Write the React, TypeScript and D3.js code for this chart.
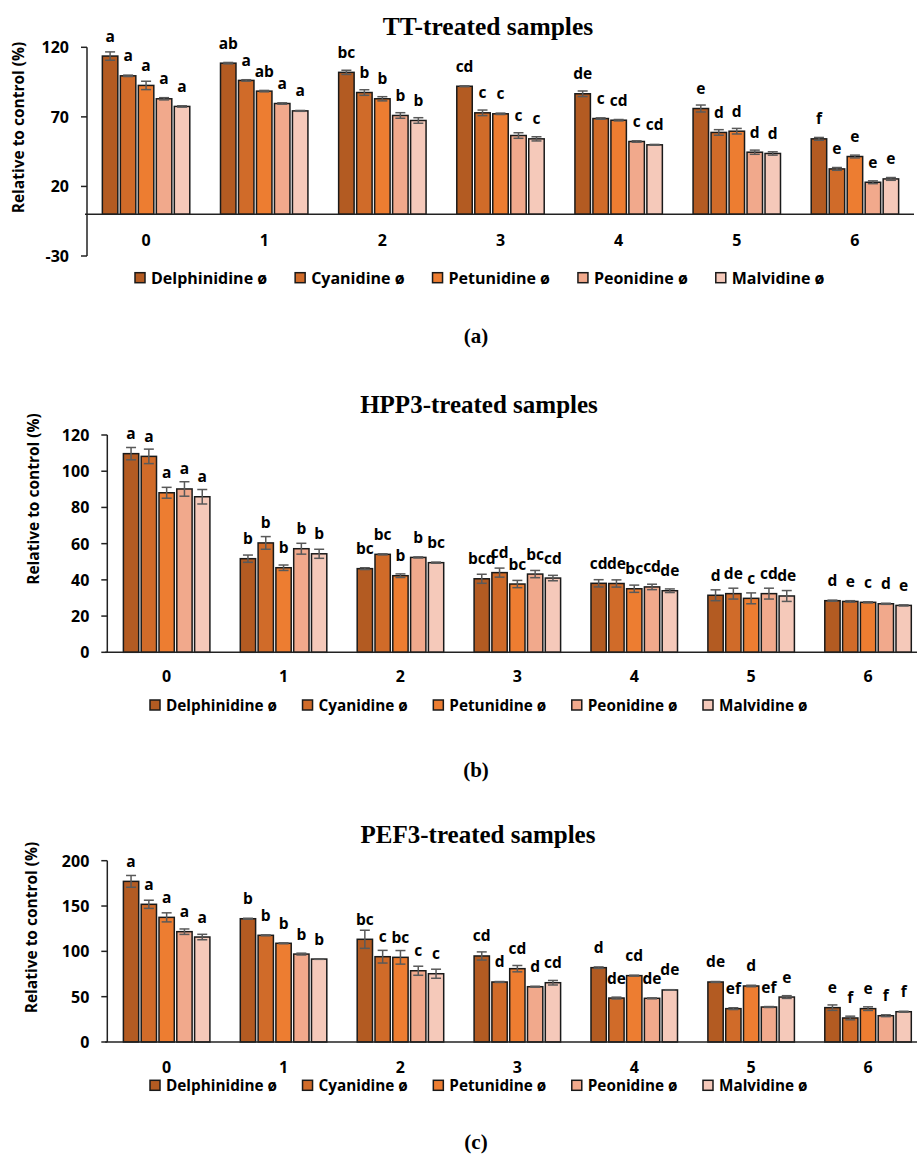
import React from 'react';
import * as d3 from 'd3';

const width = 917;
const height = 1161;

const groups = ['0', '1', '2', '3', '4', '5', '6'];
const seriesNames = ['Delphinidine ø', 'Cyanidine ø', 'Petunidine ø', 'Peonidine ø', 'Malvidine ø'];
const seriesColors = ['#B35B22', '#D06B29', '#ED7D31', '#F1A98C', '#F5C9BA'];

// rows = groups 0..6, columns = the five anthocyanins
const ttMeans = [
  [113.7, 99.5, 92.6, 83.0, 77.5],
  [108.6, 96.2, 88.5, 79.6, 74.3],
  [102.0, 87.5, 83.0, 71.0, 67.4],
  [92.0, 72.9, 72.2, 56.6, 54.2],
  [86.6, 68.8, 67.6, 52.3, 49.9],
  [76.0, 58.8, 59.7, 44.6, 43.7],
  [54.2, 32.6, 41.5, 23.0, 25.4]
];
const ttErrors = [
  [3, 0.5, 3, 0.8, 0.5],
  [0.5, 0.5, 0.5, 0.5, 0.3],
  [1.5, 2, 1.5, 2, 2],
  [0.3, 2, 0.5, 2, 1.5],
  [2, 0.5, 0.5, 0.5, 0.3],
  [2.5, 2, 2, 1.5, 1.2],
  [1, 1, 1, 1, 1]
];
const ttLetters = [
  ['a', 'a', 'a', 'a', 'a'],
  ['ab', 'a', 'ab', 'a', 'a'],
  ['bc', 'b', 'b', 'b', 'b'],
  ['cd', 'c', 'c', 'c', 'c'],
  ['de', 'c', 'cd', 'c', 'cd'],
  ['e', 'd', 'd', 'd', 'd'],
  ['f', 'e', 'e', 'e', 'e']
];

const hppMeans = [
  [109.7, 108.2, 88.1, 90.2, 85.9],
  [51.7, 60.4, 46.7, 57.2, 54.4],
  [46.2, 54.1, 42.3, 52.4, 49.5],
  [40.6, 44.0, 37.7, 43.2, 41.0],
  [38.1, 38.0, 35.1, 36.1, 34.0],
  [31.5, 32.4, 29.8, 32.4, 31.1],
  [28.5, 28.1, 27.6, 26.8, 25.9]
];
const hppErrors = [
  [3.4, 4, 3, 4, 4],
  [2, 3.5, 1.5, 3, 2.5],
  [0.5, 0.3, 1, 0.3, 0.3],
  [2.5, 2.5, 2, 2, 1.5],
  [2, 2, 2, 1.5, 1],
  [3, 3, 3, 3, 3],
  [0.3, 0.4, 0.3, 0.3, 0.3]
];
const hppLetters = [
  ['a', 'a', 'a', 'a', 'a'],
  ['b', 'b', 'b', 'b', 'b'],
  ['bc', 'bc', 'b', 'b', 'bc'],
  ['bcd', 'cd', 'bc', 'bc', 'cd'],
  ['cd', 'de', 'bc', 'cd', 'de'],
  ['d', 'de', 'c', 'cd', 'de'],
  ['d', 'e', 'c', 'd', 'e']
];

const pefMeans = [
  [177.2, 151.9, 137.5, 121.7, 115.8],
  [136.0, 117.7, 108.9, 97.0, 91.5],
  [113.3, 94.1, 93.4, 78.6, 75.3],
  [94.9, 66.2, 80.9, 61.0, 65.4],
  [82.0, 48.5, 73.2, 48.2, 57.4],
  [66.2, 36.8, 61.8, 38.6, 49.6],
  [37.9, 26.5, 36.8, 29.0, 33.4]
];
const pefErrors = [
  [6.5, 4.5, 5, 3, 3],
  [0.5, 0.5, 0.5, 1, 0.3],
  [10, 7, 7.5, 5, 5],
  [4.5, 0.5, 3.5, 0.5, 2.5],
  [0.8, 1, 0.5, 0.5, 0.3],
  [0.5, 1, 0.8, 0.5, 1.5],
  [3, 2, 2, 1, 0.5]
];
const pefLetters = [
  ['a', 'a', 'a', 'a', 'a'],
  ['b', 'b', 'b', 'b', 'b'],
  ['bc', 'c', 'bc', 'c', 'c'],
  ['cd', 'd', 'cd', 'd', 'cd'],
  ['d', 'de', 'cd', 'de', 'de'],
  ['de', 'ef', 'd', 'ef', 'e'],
  ['e', 'f', 'e', 'f', 'f']
];

const sans = '"Open Sans", Lato, sans-serif';
const serif = '"Liberation Serif", "Times New Roman", serif';

let ctx = null;
const measure = (text, font) => {
  if (!ctx) ctx = document.createElement('canvas').getContext('2d');
  ctx.font = font;
  return ctx.measureText(text).width;
};

const Panel = ({ title, caption, means, errors, letters, yDomain, yTicks, yRange, xRange, axisX,
  catY, legendY, legendX, legendGap, legendFont, titleX, titleY, titleSize, captionY, yTitleX, yTitleY }) => {
  const y = d3.scaleLinear().domain(yDomain).range(yRange);
  const x0 = d3.scaleBand().domain(groups).range(xRange).paddingInner(0.26).paddingOuter(0.13);
  const x1 = d3.scaleBand().domain(d3.range(seriesNames.length)).range([0, x0.bandwidth()]).paddingInner(0.14);
  const zero = y(0);

  let lx = legendX;
  const legendItems = seriesNames.map((name, i) => {
    const item = { name, x: lx, color: seriesColors[i] };
    lx += 16 + measure(name, `bold ${legendFont}px ${sans}`) + legendGap;
    return item;
  });

  return (
    <g>
      <text x={titleX} y={titleY} textAnchor="middle" style={{ fontFamily: serif, fontWeight: 'bold', fontSize: `${titleSize}px` }}>
        {title}
      </text>
      <text transform={`translate(${yTitleX},${yTitleY}) rotate(-90)`} textAnchor="middle" dominantBaseline="central"
        style={{ fontFamily: sans, fontWeight: 'bold', fontSize: '15.5px' }}>
        Relative to control (%)
      </text>
      {/* y axis */}
      <line x1={axisX} x2={axisX} y1={y(yDomain[0])} y2={y(yDomain[1])} stroke="#222" strokeWidth={1.5} />
      {yTicks.map(t => (
        <g key={t}>
          <line x1={axisX - 6} x2={axisX} y1={y(t)} y2={y(t)} stroke="#222" strokeWidth={1.5} />
          <text x={axisX - 18} y={y(t)} textAnchor="end" dominantBaseline="central"
            style={{ fontFamily: sans, fontWeight: 'bold', fontSize: '16px' }}>{t}</text>
        </g>
      ))}
      {/* bars */}
      {groups.map((g, gi) => (
        <g key={g} transform={`translate(${x0(g)},0)`}>
          {means[gi].map((v, si) => {
            const bx = x1(si);
            const bw = x1.bandwidth();
            const cx = bx + bw / 2;
            const e = errors[gi][si];
            return (
              <g key={si}>
                <rect x={bx} y={y(v)} width={bw} height={zero - y(v)} fill={seriesColors[si]} stroke="#1a1a1a" strokeWidth={1.5} />
                <line x1={cx} x2={cx} y1={y(v + e)} y2={y(v - e)} stroke="#595959" strokeWidth={1.5} />
                <line x1={cx - 5} x2={cx + 5} y1={y(v + e)} y2={y(v + e)} stroke="#595959" strokeWidth={1.5} />
                <line x1={cx - 5} x2={cx + 5} y1={y(v - e)} y2={y(v - e)} stroke="#595959" strokeWidth={1.5} />
                <text x={cx} y={y(v) - 14.5} textAnchor="middle"
                  style={{ fontFamily: sans, fontWeight: 'bold', fontSize: '15.5px' }}>{letters[gi][si]}</text>
              </g>
            );
          })}
          <text x={x0.bandwidth() / 2} y={catY} textAnchor="middle" dominantBaseline="central"
            style={{ fontFamily: sans, fontWeight: 'bold', fontSize: '16px' }}>{g}</text>
        </g>
      ))}
      {/* x axis at zero */}
      <line x1={axisX - 2} x2={xRange[1]} y1={zero} y2={zero} stroke="#222" strokeWidth={1.5} />
      {/* legend */}
      {legendItems.map(it => (
        <g key={it.name}>
          <rect x={it.x} y={legendY - 5} width={10} height={10} fill={it.color} stroke="#1a1a1a" strokeWidth={1.5} />
          <text x={it.x + 16} y={legendY} dominantBaseline="central"
            style={{ fontFamily: sans, fontWeight: 'bold', fontSize: `${legendFont}px` }}>{it.name}</text>
        </g>
      ))}
      <text x={476} y={captionY} textAnchor="middle" style={{ fontFamily: serif, fontWeight: 'bold', fontSize: '21px' }}>
        {caption}
      </text>
    </g>
  );
};

const App = () => (
  <svg width={width} height={height} style={{ position: 'absolute', left: 0, top: 0, background: '#fff' }}>
    <Panel title="TT-treated samples" caption="(a)" means={ttMeans} errors={ttErrors} letters={ttLetters}
      yDomain={[-30, 120]} yTicks={[-30, 20, 70, 120]} yRange={[256, 47.3]} xRange={[87, 914]} axisX={87}
      catY={240} legendY={277.7} legendX={135} legendGap={28} legendFont={16}
      titleX={488} titleY={35} titleSize={25.5} captionY={343} yTitleX={18} yTitleY={127.5} />
    <Panel title="HPP3-treated samples" caption="(b)" means={hppMeans} errors={hppErrors} letters={hppLetters}
      yDomain={[0, 120]} yTicks={[0, 20, 40, 60, 80, 100, 120]} yRange={[652.3, 435]} xRange={[108.2, 926.5]} axisX={107.3}
      catY={676} legendY={705} legendX={150} legendGap={25.5} legendFont={15.3}
      titleX={479} titleY={413} titleSize={25} captionY={777} yTitleX={33} yTitleY={499} />
    <Panel title="PEF3-treated samples" caption="(c)" means={pefMeans} errors={pefErrors} letters={pefLetters}
      yDomain={[0, 200]} yTicks={[0, 50, 100, 150, 200]} yRange={[1042, 860.7]} xRange={[108.2, 926.5]} axisX={107.3}
      catY={1066.7} legendY={1085.3} legendX={150} legendGap={25.5} legendFont={15.3}
      titleX={478} titleY={843} titleSize={25} captionY={1149} yTitleX={30.7} yTitleY={927.5} />
  </svg>
);

export default App;
